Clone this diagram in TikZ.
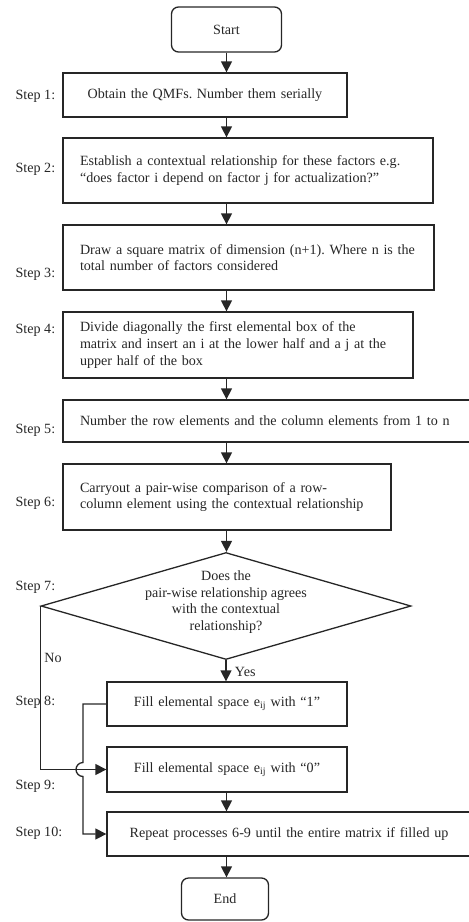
\documentclass[tikz,border=0pt]{standalone}
\usepackage{fontspec}
\setmainfont{Liberation Serif}
\usetikzlibrary{shapes.geometric,arrows.meta}
\frenchspacing

\begin{document}
\begin{tikzpicture}[x=1pt, y=1pt, color=black!85, every path/.style={line width=1.3pt},
    txt/.style={font=\fontsize{14.1}{16.8}\selectfont},
    box/.style={rectangle, draw, txt, inner xsep=17pt, inner ysep=0pt},
    terminal/.style={rectangle, draw, rounded corners=7pt, txt},
    decision/.style={diamond, draw, inner sep=0pt, minimum width=370pt, minimum height=107pt},
    steplabel/.style={txt, anchor=west, inner sep=0pt},
    arr/.style={-{Triangle[length=11pt,width=11pt]}}]

    \useasboundingbox (0,0) rectangle (469,-922);

    \node[terminal, minimum width=110pt, minimum height=45pt] (0) at (226.5,-29.5) {Start};

    \node[box, text width=250pt, align=center, minimum height=44pt] (1) at (205,-95) {Obtain the QMFs. Number them serially};
    \node[box, text width=336pt, align=left, minimum height=65pt] (2) at (248,-170.5) {Establish a contextual relationship for these factors e.g.\\ “does factor i depend on factor j for actualization?"};
    \node[box, text width=337pt, align=left, minimum height=65pt] (3) at (248.5,-257.5) {Draw a square matrix of dimension (n+1). Where n is the\\ total number of factors considered};
    \node[box, text width=316pt, align=left, minimum height=66pt] (4) at (238,-345) {Divide diagonally the first elemental box of the\\ matrix and insert an i at the lower half and a j at the\\ upper half of the box};
    \node[box, text width=374pt, align=left, minimum height=42pt] (5) at (267,-421) {Number the row elements and the column elements from 1 to n};
    \node[box, text width=294pt, align=left, minimum height=66pt] (6) at (227,-497) {Carryout a pair-wise comparison of a row-\\column element using the contextual relationship};

    \node[decision] (7) at (226,-606) {};
    \node[txt, align=center] (7t) at (226,-602) {Does the\\ pair-wise relationship agrees\\ with the contextual\\ relationship?};

    \node[box, text width=206pt, align=center, minimum height=44pt] (8) at (227,-704) {Fill elemental space e\textsubscript{ij} with “1”};
    \node[box, text width=206pt, align=center, minimum height=45pt] (9) at (227,-769.5) {Fill elemental space e\textsubscript{ij} with “0”};
    \node[box, text width=330pt, align=center, minimum height=44pt] (10) at (289,-834) {Repeat processes 6-9 until the entire matrix if filled up};

    \node[terminal, minimum width=87pt, minimum height=42pt] (11) at (225,-899) {End};

    % step labels
    \node[steplabel] (s1) at (15,-96) {Step 1:};
    \node[steplabel] (s2) at (15,-169) {Step 2:};
    \node[steplabel] (s3) at (15,-274) {Step 3:};
    \node[steplabel] (s4) at (15,-330) {Step 4:};
    \node[steplabel] (s5) at (15,-430) {Step 5:};
    \node[steplabel] (s6) at (15,-503) {Step 6:};
    \node[steplabel] (s7) at (15,-587) {Step 7:};
    \node[steplabel] (s8) at (15,-702) {Step 8:};
    \node[steplabel] (s9) at (15,-786) {Step 9:};
    \node[steplabel] (s10) at (15,-833) {Step 10:};

    \draw[arr] (0.south -| 0) to (1.north -| 0);
    \draw[arr] (1.south -| 0) to (2.north -| 0);
    \draw[arr] (2.south -| 0) to (3.north -| 0);
    \draw[arr] (3.south -| 0) to (4.north -| 0);
    \draw[arr] (4.south -| 0) to (5.north -| 0);
    \draw[arr] (5.south -| 0) to (6.north -| 0);
    \draw[arr] (6.south -| 0) to (7.north -| 0);
    \draw[arr] (7.south) to node[txt, right=5pt, pos=0.55] {Yes} (7.south |- 8.north);
    \draw[arr] (7.west) |- node[txt, right, pos=0.16] {No} (9.west);
    \draw[arr] (9.south -| 0) to (10.north -| 0);
    \draw[arr] (10.south -| 0) to (11.north -| 0);

    \coordinate (hop) at (83,-769.5);
    \draw[arr] (8.west) -| ([yshift=7pt]hop) arc[start angle=90, end angle=270, radius=7pt] |- (10.west);

\end{tikzpicture}
\end{document}
